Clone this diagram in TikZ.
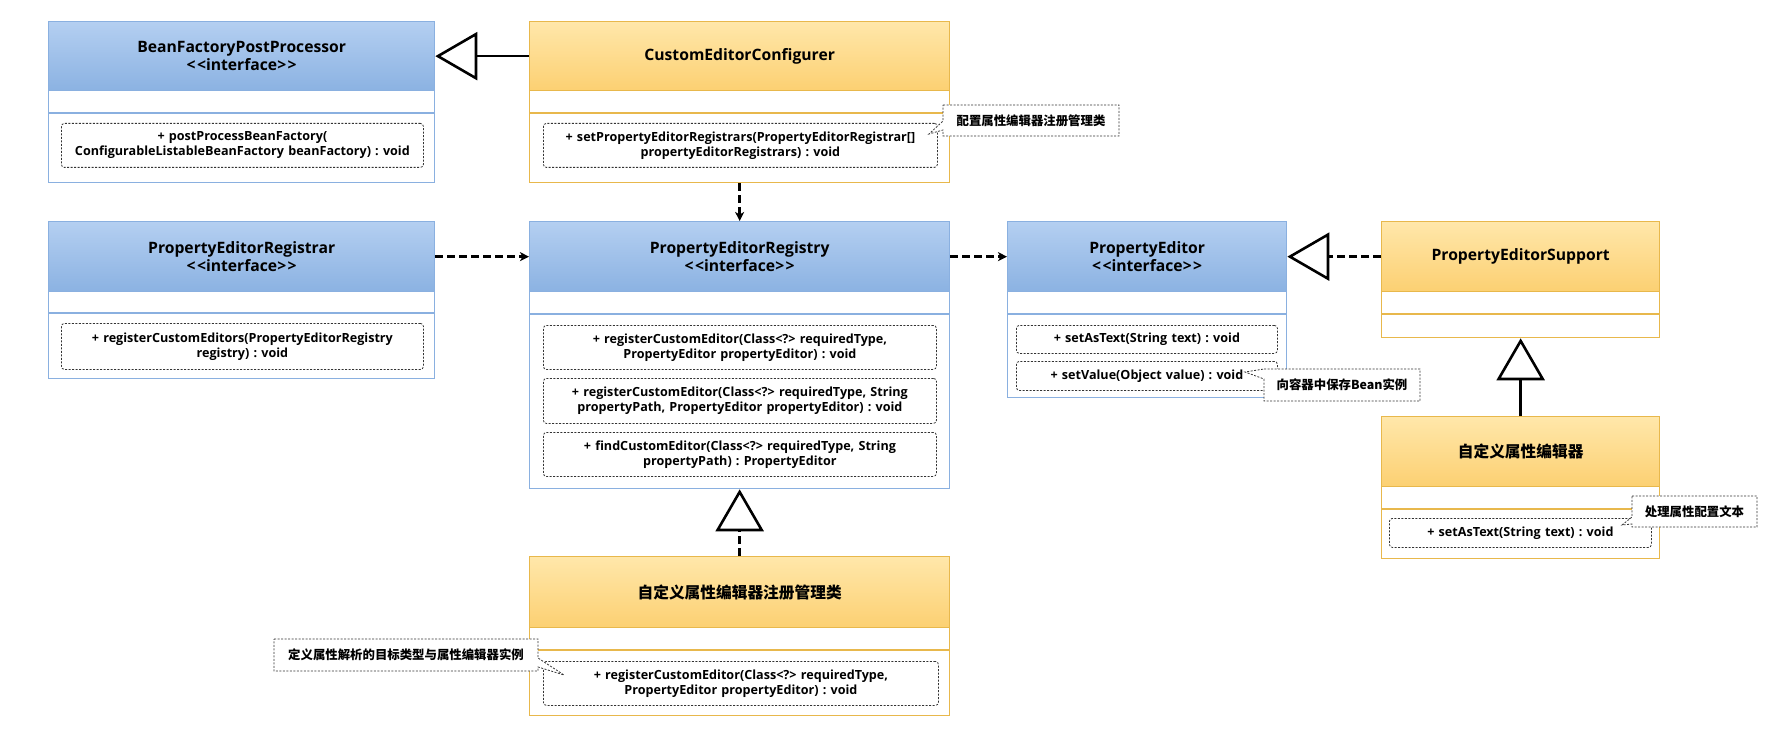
\documentclass[tikz,border=0pt]{standalone}
\usepackage{fontspec}
\setmainfont{Open Sans}
\newfontfamily\cjk{Noto Sans CJK SC}
\usetikzlibrary{arrows.meta,calc}
\definecolor{bluetop}{HTML}{B4CFF1}
\definecolor{bluebot}{HTML}{8BB2E2}
\definecolor{bluestroke}{HTML}{8AB0E0}
\definecolor{yeltop}{HTML}{FFE7AA}
\definecolor{yelbot}{HTML}{FCD072}
\definecolor{yelstroke}{HTML}{E8B84C}
\definecolor{notegray}{HTML}{333333}
\frenchspacing
\newcommand\stereo{<\kern1.5pt<interface>\kern1.5pt>}

\newcommand\umlclass[9]{%
  \pgfmathsetmacro\uw{#4-#2}\pgfmathsetmacro\uh{#5-#3}\pgfmathsetmacro\hh{#6-#3}%
  \node[#8body, minimum width=\uw pt, minimum height=\uh pt] (#1) at (#2,-#3) {};
  \node[#8head, minimum width=\uw pt, minimum height=\hh pt] (#1-head) at (#2,-#3) {#9};
  \draw[#8sep] (#2,-#7) -- (#4,-#7);
}
\newcommand\umlmethod[6]{%
  \pgfmathsetmacro\uw{#4-#2}\pgfmathsetmacro\uh{#5-#3}\pgfmathsetmacro\tw{#4-#2-4}%
  \node[methodbox, minimum width=\uw pt, minimum height=\uh pt, text width=\tw pt] (#1) at (#2,-#3) {#6};
}

\begin{document}
\begin{tikzpicture}[x=1pt,y=1pt,
  bluebody/.style={draw=bluestroke, line width=1.3pt, fill=white, inner sep=0pt, anchor=north west},
  bluehead/.style={draw=bluestroke, line width=1.3pt, top color=bluetop, bottom color=bluebot, inner sep=0pt, anchor=north west, align=center, font=\fontsize{15.7}{17.5}\selectfont\bfseries},
  bluesep/.style={draw=bluestroke, line width=1.3pt},
  yelbody/.style={draw=yelstroke, line width=1.3pt, fill=white, inner sep=0pt, anchor=north west},
  yelhead/.style={draw=yelstroke, line width=1.3pt, top color=yeltop, bottom color=yelbot, inner sep=0pt, anchor=north west, align=center, font=\fontsize{15.7}{17.5}\selectfont\bfseries},
  yelsep/.style={draw=yelstroke, line width=1.3pt},
  methodbox/.style={draw=notegray, dash pattern=on 2pt off 1.5pt, line width=0.8pt, rounded corners=3pt, fill=white, inner sep=0pt, anchor=north west, align=center, font=\fontsize{12.6}{15}\selectfont\bfseries},
  dep/.style={line width=2.6pt, dash pattern=on 8pt off 4pt, -{Stealth[length=9pt,width=9pt,inset=2.5pt]}},
  gen/.style={line width=2.6pt, -{Triangle[open,length=42pt,width=48pt]}},
  real/.style={gen, dash pattern=on 8pt off 4pt},
  callout/.style={draw=notegray, dash pattern=on 2pt off 1.5pt, line width=0.8pt, fill=white},
  notetext/.style={font=\cjk\fontsize{12.4}{15}\selectfont\bfseries, inner sep=0pt}
]
\fill[white] (0,0) rectangle (1766,-730);
\useasboundingbox (0,0) rectangle (1766,-730);

% classes
\umlclass{bfpp}{48}{21}{434}{182}{90}{113}{blue}{BeanFactoryPostProcessor\\\stereo}
\umlmethod{bfppm}{61}{123}{423}{167}{+ postProcessBeanFactory(\\ConfigurableListableBeanFactory beanFactory) : void}

\umlclass{cec}{529}{21}{949}{182}{90}{113}{yel}{CustomEditorConfigurer}
\umlmethod{cecm}{543}{123}{937}{167}{+ setPropertyEditorRegistrars(PropertyEditorRegistrar[]\\propertyEditorRegistrars) : void}

\umlclass{per}{48}{221}{434}{378}{291}{313}{blue}{PropertyEditorRegistrar\\\stereo}
\umlmethod{perm}{61}{323}{423}{369}{+ registerCustomEditors(PropertyEditorRegistry\\registry) : void}

\umlclass{pery}{529}{221}{949}{488}{291}{314}{blue}{PropertyEditorRegistry\\\stereo}
\umlmethod{perym1}{543}{325}{936}{369}{+ registerCustomEditor(Class<?> requiredType,\\PropertyEditor propertyEditor) : void}
\umlmethod{perym2}{543}{378}{936}{423}{+ registerCustomEditor(Class<?> requiredType, String\\propertyPath, PropertyEditor propertyEditor) : void}
\umlmethod{perym3}{543}{432}{936}{476}{+ findCustomEditor(Class<?> requiredType, String\\propertyPath) : PropertyEditor}

\umlclass{pe}{1007}{221}{1286}{397}{291}{314}{blue}{PropertyEditor\\\stereo}
\umlmethod{pem1}{1016}{325}{1277}{353}{+ setAsText(String text) : void}
\umlmethod{pem2}{1016}{361}{1277}{390}{+ setValue(Object value) : void}

\umlclass{pes}{1381}{221}{1659}{337}{291}{314}{yel}{PropertyEditorSupport}

\umlclass{ce}{1381}{416}{1659}{558}{486}{509}{yel}{{\cjk\bfseries 自定义属性编辑器}}
\umlmethod{cem}{1389}{518}{1651}{547}{+ setAsText(String text) : void}

\umlclass{cr}{529}{556}{949}{715}{627}{650}{yel}{{\cjk\bfseries 自定义属性编辑器注册管理类}}
\umlmethod{crm}{543}{661}{938}{705}{+ registerCustomEditor(Class<?> requiredType,\\PropertyEditor propertyEditor) : void}

% notes (callouts)
\draw[callout] (943,-105) -- (1119,-105) -- (1119,-136) -- (943,-136) -- (943,-130) -- (929,-134) -- (943,-121) -- cycle;
\node[notetext] (n1) at (1031,-120.5) {配置属性编辑器注册管理类};

\draw[callout] (1264,-369) -- (1420,-369) -- (1420,-401) -- (1264,-401) -- (1264,-379) -- (1245,-372) -- cycle;
\node[notetext] (n2) at (1342,-385) {向容器中保存Bean实例};

\draw[callout] (1632,-496) -- (1757,-496) -- (1757,-527) -- (1632,-527) -- (1632,-524) -- (1622,-525) -- (1632,-517) -- cycle;
\node[notetext] (n3) at (1694.5,-511.5) {处理属性配置文本};

\draw[callout] (274,-639) -- (538,-639) -- (538,-658) -- (564,-675) -- (538,-667) -- (538,-671) -- (274,-671) -- cycle;
\node[notetext] (n4) at (406,-655) {定义属性解析的目标类型与属性编辑器实例};

% connectors
\draw[gen] (cec-head.west) -- (bfpp-head.east);
\draw[dep] (cec.south) -- (pery-head.north);
\draw[dep] (per-head.east) -- (pery-head.west);
\draw[dep] (pery-head.east) -- (pe-head.west);
\draw[real] (pes-head.west) -- (pe-head.east);
\draw[gen] (ce-head.north) -- (pes.south);
\draw[real] (cr-head.north) -- (pery.south);
\end{tikzpicture}
\end{document}
